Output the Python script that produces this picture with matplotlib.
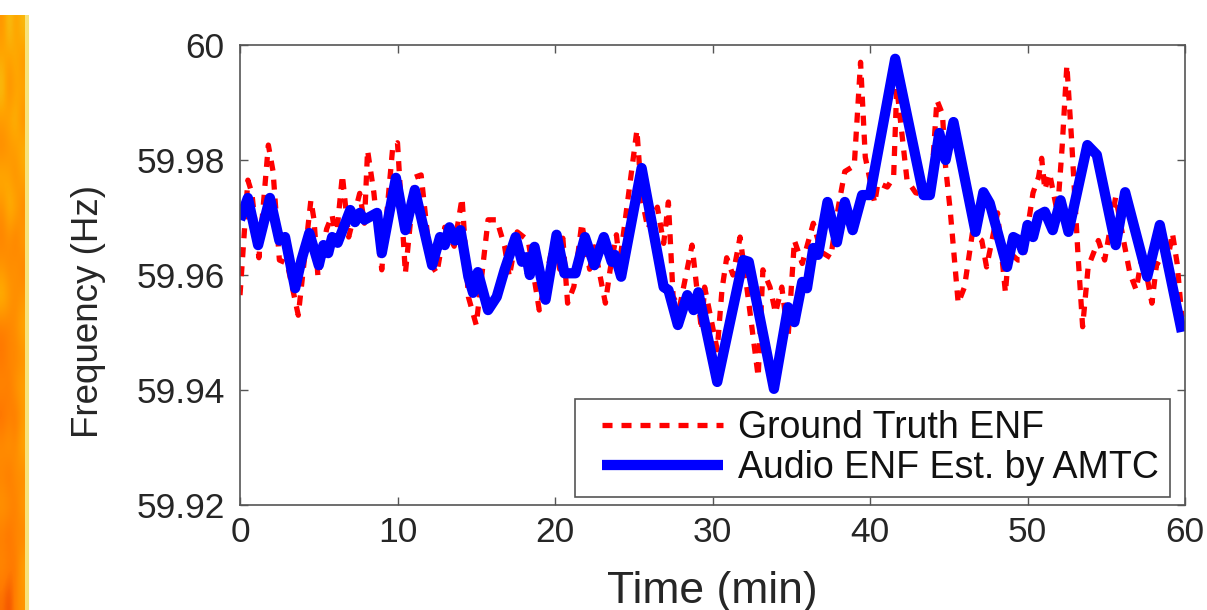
import numpy as np
import matplotlib
matplotlib.use("Agg")
import matplotlib.pyplot as plt
from matplotlib.colors import LinearSegmentedColormap
from matplotlib.legend_handler import HandlerLine2D

plt.rcParams['font.family'] = ['Liberation Sans', 'DejaVu Sans']

# audio ENF estimate (blue)
blue_t = [0.0, 0.5, 1.15, 1.9, 2.5, 2.86, 3.5, 3.9, 4.4, 5.0,
          5.3, 5.6, 5.85, 6.2, 7.0, 7.3, 7.6, 7.9, 8.7, 9.0,
          9.9, 10.5, 11.1, 12.2, 12.7, 13.0, 13.3, 13.65, 14.0, 14.5,
          14.8, 15.1, 15.75, 16.3, 16.8, 17.5, 17.9, 18.2, 18.4, 18.7,
          19.4, 20.1, 20.6, 21.3, 21.9, 22.5, 23.1, 23.6, 23.8, 24.2,
          25.5, 26.9, 27.2, 27.8, 28.4, 28.8, 29.1, 30.3, 31.95, 32.3,
          33.9, 34.8, 35.2, 35.7, 36.0, 36.4, 36.7, 37.3, 37.9, 38.4,
          38.9, 39.5, 40.0, 41.6, 43.4, 43.8, 44.4, 44.8, 45.3, 46.7,
          47.2, 47.6, 48.7, 49.1, 49.5, 49.7, 50.0, 50.35, 50.7, 51.1,
          51.6, 52.1, 52.6, 53.8, 54.4, 55.6, 56.2, 57.6, 58.4, 59.8]
blue_f = [59.9696, 59.9734, 59.9652, 59.9734, 59.966, 59.9666, 59.9577, 59.9626, 59.9673, 59.9617,
          59.9652, 59.9638, 59.9666, 59.9656, 59.9713, 59.9692, 59.9708, 59.9696, 59.9708, 59.9638,
          59.9769, 59.9678, 59.9748, 59.9617, 59.9666, 59.9652, 59.9683, 59.966, 59.9678, 59.9597,
          59.9569, 59.9605, 59.9539, 59.9562, 59.9609, 59.9666, 59.9623, 59.9631, 59.960, 59.9649,
          59.9557, 59.967, 59.9603, 59.9603, 59.9666, 59.9617, 59.9666, 59.9623, 59.9635, 59.9597,
          59.9786, 59.9579, 59.9574, 59.9513, 59.9565, 59.9539, 59.957, 59.9414, 59.9626, 59.9623,
          59.9402, 59.9544, 59.9518, 59.9588, 59.9577, 59.9647, 59.9635, 59.9727, 59.9657, 59.9727,
          59.9678, 59.9739, 59.9739, 59.9976, 59.9739, 59.9739, 59.9847, 59.980, 59.9866, 59.9675,
          59.9744, 59.9725, 59.9614, 59.9666, 59.966, 59.9643, 59.9687, 59.9666, 59.9704, 59.971,
          59.9678, 59.973, 59.9675, 59.9826, 59.9809, 59.9652, 59.9744, 59.9597, 59.9687, 59.9501]

# ground truth ENF (red dashed)
red_t = [0.0, 0.5, 0.75, 1.2, 1.8, 2.1, 2.5, 3.0, 3.7, 4.5,
         4.7, 4.95, 5.5, 5.85, 6.1, 6.5, 6.9, 7.6, 7.9, 8.1,
         8.5, 9.0, 9.7, 10.0, 10.5, 11.1, 11.5, 12.1, 12.5, 13.0,
         13.6, 14.1, 14.5, 15.0, 15.75, 16.3, 16.8, 17.1, 17.6, 18.3,
         19.0, 20.0, 20.3, 20.5, 20.8, 21.2, 21.7, 22.2, 22.5, 23.2,
         23.5, 23.9, 24.1, 25.2, 25.5, 25.9, 26.5, 26.9, 27.2, 27.5,
         27.9, 28.7, 29.3, 29.5, 30.3, 30.6, 30.9, 31.3, 31.75, 32.2,
         32.9, 33.2, 33.65, 34.0, 34.4, 34.8, 35.2, 35.7, 36.4, 36.9,
         37.5, 38.0, 38.4, 39.0, 39.4, 39.7, 40.3, 40.5, 41.1, 41.5,
         41.7, 42.35, 42.9, 43.4, 43.9, 44.25, 44.6, 44.8, 45.1, 45.6,
         46.0, 46.5, 47.1, 47.4, 48.1, 48.6, 48.8, 49.4, 49.7, 50.0,
         50.35, 50.7, 50.9, 51.1, 51.4, 51.9, 52.2, 52.5, 52.8, 53.2,
         53.5, 53.85, 54.5, 54.9, 55.6, 56.1, 56.5, 56.9, 57.3, 57.9,
         58.2, 58.8, 59.2, 59.5, 59.8]
red_f = [59.9565, 59.9765, 59.9743, 59.963, 59.9826, 59.978, 59.9626, 59.962, 59.953, 59.973,
         59.9696, 59.9597, 59.968, 59.9704, 59.966, 59.9774, 59.9666, 59.9742, 59.969, 59.9817,
         59.9743, 59.9609, 59.9823, 59.983, 59.9603, 59.977, 59.9774, 59.962, 59.9603, 59.9683,
         59.965, 59.9734, 59.9562, 59.9513, 59.9696, 59.9696, 59.965, 59.9597, 59.9675, 59.966,
         59.9539, 59.967, 59.961, 59.9664, 59.9551, 59.958, 59.969, 59.961, 59.9649, 59.9551,
         59.9609, 59.967, 59.962, 59.9852, 59.9736, 59.968, 59.9718, 59.9655, 59.9727, 59.9562,
         59.9543, 59.9652, 59.9504, 59.9579, 59.947, 59.9574, 59.963, 59.960, 59.9666, 59.9574,
         59.9423, 59.9609, 59.9579, 59.9534, 59.9579, 59.9492, 59.966, 59.962, 59.969, 59.964,
         59.963, 59.972, 59.978, 59.979, 59.997, 59.9805, 59.9725, 59.976, 59.9753, 59.977,
         59.9927, 59.9765, 59.9743, 59.974, 59.976, 59.9904, 59.988, 59.9788, 59.971, 59.9551,
         59.9579, 59.9673, 59.966, 59.9614, 59.9708, 59.9569, 59.964, 59.9626, 59.9626, 59.968,
         59.9743, 59.977, 59.9803, 59.9748, 59.9777, 59.9708, 59.9823, 59.9965, 59.9835, 59.9638,
         59.951, 59.9614, 59.966, 59.9626, 59.9736, 59.966, 59.9603, 59.9574, 59.9638, 59.9551,
         59.962, 59.961, 59.9673, 59.962, 59.9527]

x_ticks = [0, 10, 20, 30, 40, 50, 60]
y_ticks = [59.92, 59.94, 59.96, 59.98, 60]
y_ticklabels = ['59.92', '59.94', '59.96', '59.98', '60']

# bit of neighbouring spectrogram cut off at the left edge
strip_vals = np.array([
    [0.55, 0.90, 0.60, 0.80],
    [0.70, 0.60, 0.75, 0.55],
    [0.85, 0.45, 0.65, 0.70],
    [0.60, 0.70, 0.80, 0.50],
    [0.45, 0.55, 0.60, 0.75],
    [0.75, 0.65, 0.50, 0.65],
    [0.50, 0.80, 0.70, 0.45],
    [0.40, 0.50, 0.35, 0.60],
    [0.55, 0.45, 0.55, 0.40],
    [0.80, 0.60, 0.45, 0.55],
    [0.35, 0.40, 0.50, 0.70],
    [0.30, 0.45, 0.40, 0.50],
    [0.45, 0.35, 0.55, 0.65],
    [0.25, 0.40, 0.30, 0.55],
    [0.50, 0.55, 0.45, 0.70],
    [0.40, 0.30, 0.50, 0.45],
    [0.55, 0.50, 0.35, 0.60],
    [0.35, 0.25, 0.45, 0.40],
    [0.45, 0.40, 0.30, 0.65],
    [0.30, 0.15, 0.40, 0.55],
])

fig = plt.figure(figsize=(12.07, 6.10), dpi=100)

sax = fig.add_axes([0, 0, 25 / 1207, 1 - 15 / 610])
cmap = LinearSegmentedColormap.from_list('strip', ['#e62000', '#ff7a00', '#ffa500', '#f0d820'])
sax.imshow(strip_vals, aspect='auto', cmap=cmap, vmin=0, vmax=1, interpolation='bicubic')
sax.axis('off')
fax = fig.add_axes([25 / 1207, 0, 4 / 1207, 1 - 15 / 610])
fax.set_facecolor('#f7e27a')
fax.set_xticks([])
fax.set_yticks([])
for s in fax.spines.values():
    s.set_visible(False)

ax = fig.add_axes([240 / 1207, 1 - 505 / 610, 945 / 1207, 460 / 610])
red_line, = ax.plot(red_t, red_f, color='#ff0000', lw=3.8, dashes=(1.9, 1.7), label='Ground Truth ENF')
blue_line, = ax.plot(blue_t, blue_f, color='#0000ff', lw=7.4, solid_joinstyle='round',
                     solid_capstyle='butt', label='Audio ENF Est. by AMTC')

ax.set_xlim(0, 60)
ax.set_ylim(59.92, 60)
ax.set_xticks(x_ticks)
ax.set_yticks(y_ticks)
ax.set_yticklabels(y_ticklabels)
ax.tick_params(direction='in', length=6, width=1, colors='#555555', labelcolor='#262626',
               labelsize=25.5, top=True, right=True)
ax.tick_params(axis='y', pad=11)
ax.tick_params(axis='x', pad=8)
for s in ax.spines.values():
    s.set_color('#555555')
    s.set_linewidth(1.2)

ax.set_xlabel('Time (min)', fontsize=32, color='#262626')
ax.set_ylabel('Frequency (Hz)', fontsize=26.5, color='#262626')
ax.xaxis.set_label_coords(0.5, -0.143)
ax.yaxis.set_label_coords(-0.142, 0.42)

hmap = {red_line: HandlerLine2D(xpad=0.43), blue_line: HandlerLine2D(xpad=0.43)}
leg = ax.legend(loc='lower right', bbox_to_anchor=(1 - 15 / 945, 8 / 460), fontsize=27,
                frameon=True, fancybox=False, framealpha=1, edgecolor='#555555',
                handlelength=3.65, handletextpad=0.4, labelspacing=0.1, borderpad=0.3,
                borderaxespad=0, handler_map=hmap)
leg.get_frame().set_linewidth(1.2)
for t in leg.get_texts():
    t.set_color('#111111')

fig.savefig('out.png', dpi=100)
